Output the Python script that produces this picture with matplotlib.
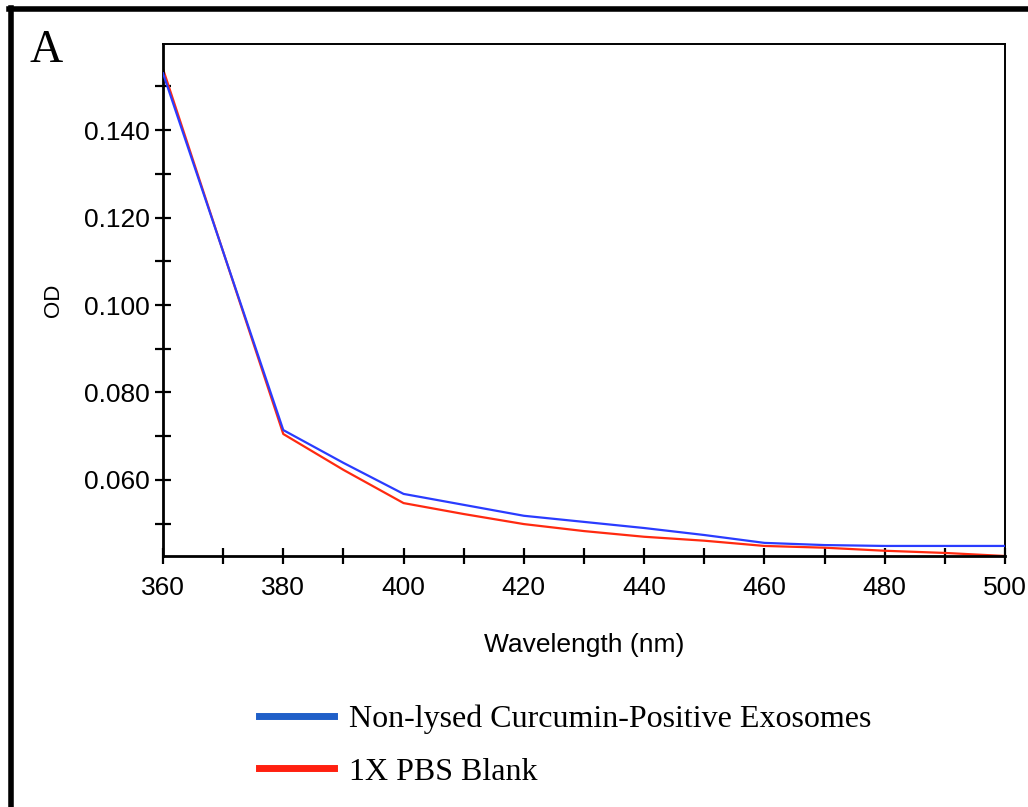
import matplotlib
matplotlib.use('Agg')
import matplotlib.pyplot as plt
from matplotlib.lines import Line2D

# Data
wavelength = [360, 370, 380, 390, 400, 410, 420, 430, 440, 450, 460, 470, 480, 490, 500]
od_exosomes = [0.1530, 0.1122, 0.0714, 0.0639, 0.0568, 0.0543, 0.0518, 0.0504,
               0.0490, 0.0474, 0.0456, 0.0451, 0.0449, 0.0449, 0.0449]
od_pbs = [0.1540, 0.1122, 0.0705, 0.0623, 0.0547, 0.0522, 0.0499, 0.0483,
          0.0470, 0.0461, 0.0449, 0.0445, 0.0438, 0.0433, 0.0426]
labels = ['Non-lysed Curcumin-Positive Exosomes', '1X PBS Blank']
xticks = [360, 380, 400, 420, 440, 460, 480, 500]
yticks = [0.060, 0.080, 0.100, 0.120, 0.140]

fig = plt.figure(figsize=(10.28, 8.07), dpi=100)
ax = fig.add_axes([163/1028, 1-556/807, (1005-163)/1028, (556-44)/807])

ax.plot(wavelength, od_exosomes, color='#2a3cff', lw=1.6, zorder=3)
ax.plot(wavelength, od_pbs, color='#ff2a10', lw=1.6, zorder=2)

ax.set_xlim(360, 500)
ax.set_ylim(0.0426, 0.1597)
ax.set_xticks(xticks)
ax.set_xticks(range(370, 500, 20), minor=True)
ax.set_yticks(yticks)
ax.set_yticks([0.050, 0.070, 0.090, 0.110, 0.130, 0.150], minor=True)
ax.set_yticklabels(['%.3f' % v for v in yticks])

for lab in ax.get_xticklabels() + ax.get_yticklabels():
    lab.set_fontfamily('Liberation Sans')
    lab.set_fontsize(19)
ax.tick_params(which='both', direction='inout', length=11, width=1.6, color='black')
ax.tick_params(axis='x', pad=9)
ax.tick_params(axis='y', pad=4)

for side in ['left', 'bottom']:
    ax.spines[side].set_linewidth(2)
for side in ['right', 'top']:
    ax.spines[side].set_linewidth(1.4)

ax.set_xlabel('Wavelength (nm)', fontdict={'family': 'Liberation Sans', 'size': 19}, labelpad=24)
ax.set_ylabel('OD', fontdict={'family': 'Liberation Sans', 'size': 16}, labelpad=14)

# panel letter
fig.text(30/1028, 1-62/807, 'A', family='Liberation Serif', fontsize=33, ha='left', va='baseline')

# outer frame (left and top edges)
fig.add_artist(Line2D([11/1028, 11/1028], [0, 1-8/807], transform=fig.transFigure,
                      color='black', lw=4))
fig.add_artist(Line2D([9/1028, 1], [1-9/807, 1-9/807], transform=fig.transFigure,
                      color='black', lw=4))

# legend below the axes
handles = [Line2D([], [], color='#1f5fc8', lw=5), Line2D([], [], color='#ff2010', lw=5)]
fig.legend(handles, labels, loc='upper left', bbox_to_anchor=(230/1028, 1-676/807),
           frameon=False, handlelength=2.35, handletextpad=0.47, labelspacing=0.72,
           prop={'family': 'Liberation Serif', 'size': 23})

fig.savefig('out.png', dpi=100)
